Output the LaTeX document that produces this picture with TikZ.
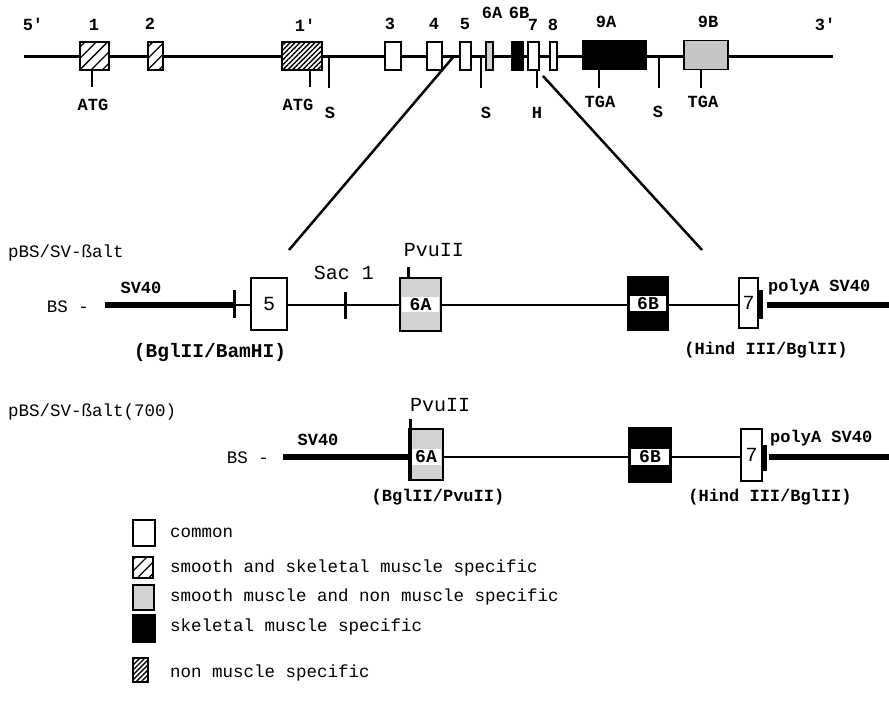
\documentclass[tikz,border=0pt]{standalone}
\usepackage{fontspec}
\setmonofont{Liberation Mono}
\usetikzlibrary{patterns.meta}

\tikzset{
  exon/.style={rectangle,draw,line width=1.8pt,fill=white,inner sep=0pt},
  hatch/.style={preaction={fill=white},pattern={Lines[angle=45,distance=8pt,line width=1.3pt]}},
  densehatch/.style={preaction={fill=white},pattern={Lines[angle=45,distance=3.5pt,line width=1.4pt]}},
  stipple/.style={fill=gray!35},
  gene/.style={line width=3pt},
  intron/.style={line width=2pt},
  vector/.style={line width=6pt},
  tick/.style={line width=2.5pt},
  site/.style={line width=3pt},
  txt/.style={font=\ttfamily\fontsize{17.5}{20}\selectfont,inner sep=0pt},
  btxt/.style={font=\ttfamily\bfseries\fontsize{17}{20}\selectfont,inner sep=0pt},
  bigtxt/.style={font=\ttfamily\fontsize{20}{24}\selectfont,inner sep=0pt},
  inlab/.style={font=\ttfamily\bfseries\fontsize{18}{20}\selectfont,fill=white,inner xsep=0pt,inner ysep=1.5pt}
}

\begin{document}
\begin{tikzpicture}[x=1pt,y=-1pt]
  \useasboundingbox (0,0) rectangle (889,704);

  % genomic map
  \coordinate (g5) at (24,56);
  \coordinate (g3) at (833,56);
  \node[btxt] (l5) at (33,24) {5'};
  \node[btxt] (l3) at (825,24) {3'};

  \node[exon,hatch,minimum width=29pt,minimum height=28pt] (e1) at (94.5,56) {};
  \node[exon,hatch,minimum width=15pt,minimum height=28pt] (e2) at (155.5,56) {};
  \node[exon,densehatch,minimum width=40pt,minimum height=28pt] (e1p) at (302,56) {};
  \node[exon,minimum width=16pt,minimum height=28pt] (e3) at (393,56) {};
  \node[exon,minimum width=15pt,minimum height=28pt] (e4) at (434.5,56) {};
  \node[exon,minimum width=11pt,minimum height=28pt] (e5) at (465.5,56) {};
  \node[exon,stipple,minimum width=7pt,minimum height=28pt] (e6a) at (489.5,56) {};
  \node[exon,fill=black,minimum width=11pt,minimum height=28pt] (e6b) at (517.5,56) {};
  \node[exon,minimum width=11pt,minimum height=28pt] (e7) at (533.5,56) {};
  \node[exon,minimum width=7pt,minimum height=28pt] (e8) at (553.5,56) {};
  \node[exon,fill=black,minimum width=63pt,minimum height=29pt] (e9a) at (614.5,55) {};
  \node[exon,fill=gray!45,minimum width=44pt,minimum height=29pt] (e9b) at (706,55) {};

  \draw[gene] (g5) -- (e1.west);
  \draw[gene] (e1.east) -- (e2.west);
  \draw[gene] (e2.east) -- (e1p.west);
  \draw[gene] (e1p.east) -- (e3.west);
  \draw[gene] (e3.east) -- (e4.west);
  \draw[gene] (e4.east) -- (e5.west);
  \draw[gene] (e5.east) -- (e6a.west);
  \draw[gene] (e6a.east) -- (e6b.west);
  \draw[gene] (e6b.east) -- (e7.west);
  \draw[gene] (e7.east) -- (e8.west);
  \draw[gene] (e8.east) -- (e9a.west |- g5);
  \draw[gene] (e9a.east |- g5) -- (e9b.west |- g5);
  \draw[gene] (e9b.east |- g5) -- (g3);

  \node[btxt] (n1) at (94,25) {1};
  \node[btxt] (n2) at (150,24) {2};
  \node[btxt] (n1p) at (305,25) {1'};
  \node[btxt] (n3) at (390,24) {3};
  \node[btxt] (n4) at (434,24) {4};
  \node[btxt] (n5) at (465,24) {5};
  \node[btxt] (n6a) at (492,13) {6A};
  \node[btxt] (n6b) at (519,13) {6B};
  \node[btxt] (n7) at (533,25) {7};
  \node[btxt] (n8) at (553,25) {8};
  \node[btxt] (n9a) at (606,22) {9A};
  \node[btxt] (n9b) at (708,22) {9B};

  % start, stop and restriction sites
  \draw[tick] (92,70) -- (92,87);
  \node[btxt] (atg1) at (93,105) {ATG};
  \draw[tick] (310,70) -- (310,87);
  \node[btxt] (atg2) at (298,105) {ATG};
  \draw[tick] (329,56) -- (329,88);
  \node[btxt] (s1) at (330,113) {S};
  \draw[tick] (481,56) -- (481,88);
  \node[btxt] (s2) at (486,113) {S};
  \draw[tick] (537,70) -- (537,88);
  \node[btxt] (h1) at (537,113) {H};
  \draw[tick] (599,69) -- (599,88);
  \node[btxt] (tga1) at (600,102) {TGA};
  \draw[tick] (659,56) -- (659,88);
  \node[btxt] (s3) at (658,112) {S};
  \draw[tick] (701,69) -- (701,88);
  \node[btxt] (tga2) at (703,102) {TGA};

  % zoom lines
  \coordinate (zl) at (289,250);
  \coordinate (zr) at (702,250);
  \draw[tick] ([xshift=-5pt]e5.west) -- (zl);
  \draw[tick] ([shift={(3,5)}]e7.south east) -- (zr);

  % pBS/SV-balt
  \node[txt,anchor=west] (c1name) at (8,253) {pBS/SV-ßalt};
  \node[txt] (c1bs) at (68,307) {BS -};
  \coordinate (c1a) at (105,305);
  \coordinate (c1b) at (234,305);
  \coordinate (c1c) at (767,305);
  \coordinate (c1d) at (889,305);
  \draw[vector] (c1a) -- (c1b);
  \node[btxt] (c1sv) at (141,288) {SV40};
  \node[exon,minimum width=36pt,minimum height=52pt,font=\ttfamily\fontsize{20}{24}\selectfont] (c1e5) at (269,304) {5};
  \node[exon,stipple,minimum width=41pt,minimum height=53pt] (c1e6a) at (420.5,304.5) {};
  \node[exon,fill=black,minimum width=40pt,minimum height=53pt] (c1e6b) at (648,303.5) {};
  \node[exon,minimum width=19pt,minimum height=50pt,font=\ttfamily\fontsize{20}{24}\selectfont] (c1e7) at (748.5,303) {7};
  \draw[intron] (c1b) -- (c1e5.west |- c1b);
  \draw[intron] (c1e5.east |- c1b) -- (c1e6a.west |- c1b);
  \draw[intron] (c1e6a.east |- c1b) -- (c1e6b.west |- c1b);
  \draw[intron] (c1e6b.east |- c1b) -- (c1e7.west |- c1b);
  \node[inlab,minimum width=37pt] (c1l6a) at (c1e6a) {6A};
  \node[inlab,minimum width=36pt] (c1l6b) at (c1e6b) {6B};
  \fill (758,290) rectangle (763,319);
  \draw[vector] (c1c) -- (c1d);
  \draw[site] (234,290) -- (234,318);
  \draw[site] (345,292) -- (345,319);
  \draw[site] (408,267) -- (408,279);
  \node[bigtxt] (c1sac) at (344,273) {Sac 1};
  \node[bigtxt] (c1pvu) at (434,250) {PvuII};
  \node[btxt,anchor=west] (c1pa) at (768,287) {polyA SV40};
  \node[btxt,font=\ttfamily\bfseries\fontsize{19.5}{24}\selectfont] (c1bgl) at (210,352) {(BglII/BamHI)};
  \node[btxt] (c1hind) at (766,350) {(Hind III/BglII)};

  % pBS/SV-balt(700)
  \node[txt,anchor=west] (c2name) at (8,412) {pBS/SV-ßalt(700)};
  \node[txt] (c2bs) at (248,458) {BS -};
  \coordinate (c2a) at (283,457);
  \coordinate (c2c) at (769,457);
  \coordinate (c2d) at (889,457);
  \node[exon,stipple,minimum width=34pt,minimum height=51pt] (c2e6a) at (426,454.5) {};
  \node[exon,fill=black,minimum width=42pt,minimum height=54pt] (c2e6b) at (650,455) {};
  \node[exon,minimum width=21pt,minimum height=52pt,font=\ttfamily\fontsize{20}{24}\selectfont] (c2e7) at (751.5,455) {7};
  \draw[vector] (c2a) -- (c2e6a.west |- c2a);
  \draw[intron] (c2e6a.east |- c2a) -- (c2e6b.west |- c2a);
  \draw[intron] (c2e6b.east |- c2a) -- (c2e7.west |- c2a);
  \node[inlab,minimum width=30pt] (c2l6a) at (c2e6a.center |- c2a) {6A};
  \node[inlab,minimum width=38pt] (c2l6b) at (c2e6b.center |- c2a) {6B};
  \fill (762,445) rectangle (767,471);
  \draw[vector] (c2c) -- (c2d);
  \draw[site] (410,419) -- (410,480);
  \node[btxt] (c2sv) at (318,440) {SV40};
  \node[bigtxt] (c2pvu) at (440,405) {PvuII};
  \node[btxt,anchor=west] (c2pa) at (770,438) {polyA SV40};
  \node[btxt] (c2bgl) at (438,497) {(BglII/PvuII)};
  \node[btxt] (c2hind) at (770,497) {(Hind III/BglII)};

  % legend
  \node[exon,minimum width=22pt,minimum height=26pt] (k1) at (144,533) {};
  \node[exon,hatch,minimum width=20pt,minimum height=21pt] (k2) at (143,567.5) {};
  \node[exon,stipple,minimum width=21pt,minimum height=25pt] (k3) at (143.5,597.5) {};
  \node[exon,fill=black,minimum width=22pt,minimum height=27pt] (k4) at (144,628.5) {};
  \node[exon,densehatch,minimum width=15pt,minimum height=24pt] (k5) at (140.5,670) {};
  \node[txt,anchor=west] (t1) at (170,533) {common};
  \node[txt,anchor=west] (t2) at (170,568) {smooth and skeletal muscle specific};
  \node[txt,anchor=west] (t3) at (170,597) {smooth muscle and non muscle specific};
  \node[txt,anchor=west] (t4) at (170,627) {skeletal muscle specific};
  \node[txt,anchor=west] (t5) at (170,673) {non muscle specific};
\end{tikzpicture}
\end{document}
